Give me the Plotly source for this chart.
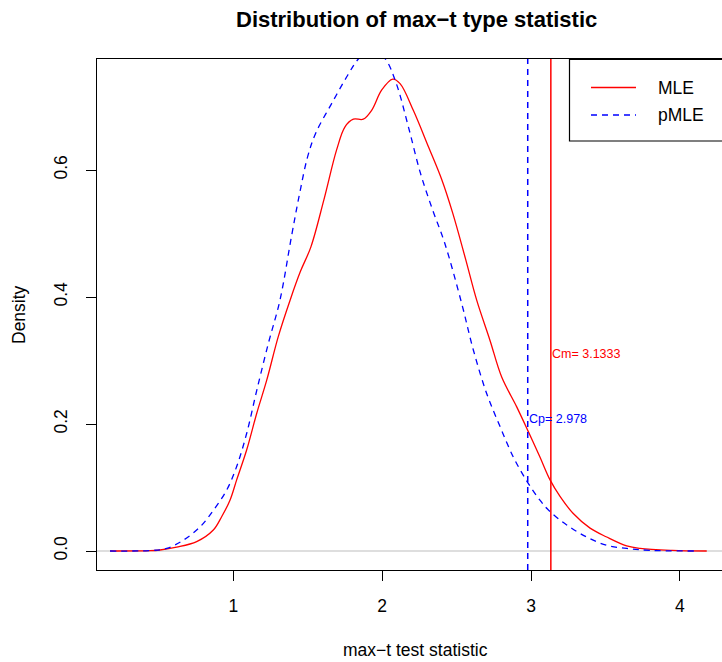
import plotly.graph_objects as go

# ---- data ----
mle_x = [0.171, 0.44, 0.507, 0.619, 0.753, 0.865, 0.921, 0.977, 1.022, 1.089, 1.157, 1.224,
         1.302, 1.381, 1.45, 1.521, 1.608, 1.694, 1.750, 1.806, 1.873, 1.929, 1.997,
         2.071, 2.120, 2.209, 2.310, 2.400, 2.474, 2.56, 2.635, 2.724, 2.803, 2.904, 2.982,
         3.060, 3.128, 3.195, 3.284, 3.397, 3.509, 3.643, 3.733, 3.95, 4.181]
mle_y = [0.000, 0.0005, 0.0016, 0.006, 0.0147, 0.033, 0.054, 0.080, 0.112, 0.159, 0.217, 0.269,
         0.338, 0.395, 0.440, 0.479, 0.553, 0.632, 0.668, 0.680, 0.680, 0.694, 0.726,
         0.743, 0.736, 0.694, 0.637, 0.585, 0.532, 0.460, 0.395, 0.332, 0.274, 0.227, 0.188,
         0.148, 0.112, 0.086, 0.059, 0.036, 0.022, 0.008, 0.004, 0.001, 0.000]

pmle_x = [0.171, 0.44, 0.552, 0.663, 0.776, 0.865, 0.955, 1.022, 1.089, 1.157, 1.235, 1.313,
          1.390, 1.445, 1.499, 1.553, 1.661, 1.770, 1.837, 1.93, 2.021, 2.095, 2.176, 2.257,
          2.339, 2.420, 2.534, 2.612, 2.702, 2.792, 2.881, 2.975, 3.060, 3.128, 3.240, 3.374,
          3.509, 3.643, 3.8, 4.099]
pmle_y = [0.000, 0.0008, 0.004, 0.017, 0.038, 0.064, 0.096, 0.133, 0.185, 0.253, 0.327, 0.395,
          0.495, 0.563, 0.621, 0.658, 0.705, 0.750, 0.774, 0.792, 0.775, 0.736, 0.668, 0.595,
          0.537, 0.485, 0.390, 0.317, 0.248, 0.196, 0.148, 0.109, 0.080, 0.062, 0.041, 0.022,
          0.009, 0.004, 0.001, 0.000]

cm_value = 3.1333
cp_value = 2.978
cm_label_y = 0.310
cp_label_y = 0.208

x_ticks = [1, 2, 3, 4]
y_ticks = [0.0, 0.2, 0.4, 0.6]
y_tick_labels = ["0.0", "0.2", "0.4", "0.6"]

FONT = "Liberation Sans, Arial, Helvetica, sans-serif"
RED = "#ff0000"
BLUE = "#0000ff"

fig = go.Figure()
fig.add_trace(go.Scatter(x=mle_x, y=mle_y, mode="lines", name="MLE",
                         line=dict(color=RED, width=1.3, shape="spline", smoothing=1.0)))
fig.add_trace(go.Scatter(x=pmle_x, y=pmle_y, mode="lines", name="pMLE",
                         line=dict(color=BLUE, width=1.3, dash="6px,5px", shape="spline", smoothing=1.0)))

# horizontal reference at 0
fig.add_shape(type="line", xref="paper", yref="y", x0=0, x1=1, y0=0, y1=0,
              line=dict(color="#bebebe", width=1.2), layer="below")
# vertical critical-value lines
fig.add_shape(type="line", xref="x", yref="paper", x0=cm_value, x1=cm_value, y0=0, y1=1,
              line=dict(color=RED, width=1.5))
fig.add_shape(type="line", xref="x", yref="paper", x0=cp_value, x1=cp_value, y0=0, y1=1,
              line=dict(color=BLUE, width=1.5, dash="6px,5px"))

fig.add_annotation(x=cm_value, y=cm_label_y, xref="x", yref="y", text="Cm= 3.1333",
                   showarrow=False, xanchor="left", yanchor="middle", xshift=-1,
                   font=dict(family=FONT, size=12.5, color=RED))
fig.add_annotation(x=cp_value, y=cp_label_y, xref="x", yref="y", text="Cp= 2.978",
                   showarrow=False, xanchor="left", yanchor="middle", xshift=-1,
                   font=dict(family=FONT, size=12.5, color=BLUE))

# manual legend (R style box)
W, H = 722, 662
L, R_, T, B = 97, 0, 59, 92
pw = W - L - R_
ph = H - T - B
def px(xp):
    return (xp - L) / pw
def py(yp):
    return (H - B - yp) / ph

fig.add_shape(type="rect", xref="paper", yref="paper", x0=px(569.5), x1=px(740), y0=py(141), y1=py(59.5),
              line=dict(color="black", width=1.2), fillcolor="white")
fig.add_shape(type="line", xref="paper", yref="paper", x0=px(591), x1=px(636), y0=py(87.5), y1=py(87.5),
              line=dict(color=RED, width=1.3))
fig.add_shape(type="line", xref="paper", yref="paper", x0=px(591), x1=px(636), y0=py(115), y1=py(115),
              line=dict(color=BLUE, width=1.3, dash="6px,5px"))
fig.add_annotation(x=px(656), y=py(88), xref="paper", yref="paper", text="MLE", showarrow=False,
                   xanchor="left", yanchor="middle", font=dict(family=FONT, size=17.5, color="black"))
fig.add_annotation(x=px(656), y=py(115), xref="paper", yref="paper", text="pMLE", showarrow=False,
                   xanchor="left", yanchor="middle", font=dict(family=FONT, size=17.5, color="black"))

# titles
fig.add_annotation(x=px(416), y=py(19), xref="paper", yref="paper",
                   text="<b>Distribution of max\u2212t type statistic</b>", showarrow=False,
                   xanchor="center", yanchor="middle", font=dict(family=FONT, size=22, color="black"))
fig.add_annotation(x=px(415), y=py(650), xref="paper", yref="paper",
                   text="max\u2212t test statistic", showarrow=False,
                   xanchor="center", yanchor="middle", font=dict(family=FONT, size=17.5, color="black"))
fig.add_annotation(x=px(19), y=py(315), xref="paper", yref="paper",
                   text="Density", showarrow=False, textangle=-90,
                   xanchor="center", yanchor="middle", font=dict(family=FONT, size=17.5, color="black"))

x_left = 1 - (233.4 - L) / 148.8
x_right = x_left + pw / 148.8
y_bottom = -(570 - 551) / 635
y_top = (551 - 59) / 635

fig.update_layout(
    width=W, height=H,
    margin=dict(l=L, r=R_, t=T, b=B, pad=0),
    paper_bgcolor="white", plot_bgcolor="white",
    showlegend=False,
    font=dict(family=FONT, size=17.5, color="black"),
    xaxis=dict(range=[x_left, x_right], tickvals=x_ticks, ticktext=[str(v) for v in x_ticks],
               showgrid=False, zeroline=False, showline=True, linecolor="black", linewidth=1.2,
               mirror=True, ticks="outside", ticklen=10, tickwidth=1.2, tickcolor="black",
               ticklabelstandoff=10, tickfont=dict(family=FONT, size=17.5, color="black")),
    yaxis=dict(range=[y_bottom, y_top], tickvals=y_ticks, ticktext=y_tick_labels,
               showgrid=False, zeroline=False, showline=True, linecolor="black", linewidth=1.2,
               mirror=False, ticks="outside", ticklen=10, tickwidth=1.2, tickcolor="black",
               tickangle=-90, ticklabelstandoff=12, tickfont=dict(family=FONT, size=17.5, color="black")),
)

fig.write_html("out.html", config={"displayModeBar": False},
               post_script="document.body.style.margin='0px';document.body.style.padding='0px';")
